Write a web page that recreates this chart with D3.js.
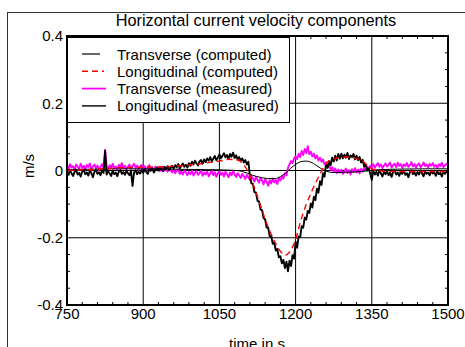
<!DOCTYPE html>
<html>
<head>
<meta charset="utf-8">
<script src="https://cdn.jsdelivr.net/npm/d3@7/dist/d3.min.js"></script>
<style>
  body { margin: 0; background: #fff; }
  text { font-family: Arial, "Liberation Sans", sans-serif; fill: #000; }
</style>
</head>
<body>
<div id="viz"></div>
<script>
// measured records, one sample every 3 s from 750 s to 1500 s (rows of 30 s)
const measStart = 750;
const measStep = 3;

const longMeasured = [
  -0.001, -0.013, 0.002, -0.009, -0.016, -0.004, 0.001, -0.012, -0.007, -0.018,  // 750
  -0.003, 0.002, -0.011, -0.006, -0.015, 0.000, -0.008, -0.020, -0.004, 0.001,   // 780
  -0.010, -0.005, -0.014, 0.001, -0.007, 0.058, -0.012, -0.002, -0.009, -0.016,  // 810
  0.000, -0.011, -0.006, -0.017, -0.003, 0.002, -0.010, -0.005, -0.013, -0.001,  // 840
  -0.008, -0.014, -0.002, -0.046, -0.006, 0.001, -0.011, -0.004, -0.009, 0.002,  // 870
  -0.007, 0.003, -0.004, -0.010, 0.004, -0.001, 0.006, -0.006, 0.002, 0.008,     // 900
  0.000, 0.009, 0.003, -0.002, 0.011, 0.005, 0.013, 0.002, 0.008, 0.014,         // 930
  0.006, 0.016, 0.010, 0.019, 0.007, 0.014, 0.021, 0.011, 0.017, 0.009,         // 960
  0.022, 0.014, 0.026, 0.018, 0.029, 0.021, 0.015, 0.027, 0.031, 0.020,         // 990
  0.033, 0.025, 0.036, 0.029, 0.040, 0.027, 0.035, 0.043, 0.031, 0.038,         // 1020
  0.048, 0.036, 0.044, 0.051, 0.039, 0.046, 0.034, 0.049, 0.041, 0.053,         // 1050
  0.037, 0.045, 0.033, 0.040, 0.029, 0.036, 0.024, 0.031, 0.018, 0.026,         // 1080
  -0.014, -0.038, -0.040, -0.064, -0.066, -0.090, -0.092, -0.116, -0.118, -0.142, // 1110
  -0.145, -0.170, -0.170, -0.196, -0.194, -0.218, -0.214, -0.238, -0.233, -0.258, // 1140
  -0.255, -0.276, -0.266, -0.290, -0.271, -0.300, -0.268, -0.284, -0.252, -0.262, // 1170
  -0.212, -0.230, -0.196, -0.198, -0.166, -0.170, -0.140, -0.146, -0.120, -0.126, // 1200
  -0.098, -0.110, -0.078, -0.088, -0.054, -0.066, -0.032, -0.043, -0.008, -0.018, // 1230
  0.020, 0.008, 0.028, 0.016, 0.038, 0.027, 0.044, 0.030, 0.049, 0.035,         // 1260
  0.050, 0.036, 0.047, 0.038, 0.052, 0.034, 0.045, 0.040, 0.049, 0.033,         // 1290
  0.044, 0.031, 0.040, 0.024, 0.032, 0.012, 0.018, 0.000, 0.006, -0.010,        // 1320
  -0.028, 0.000, -0.012, -0.004, -0.015, 0.001, -0.009, -0.018, -0.003, -0.011, // 1350
  -0.002, -0.014, -0.007, -0.019, -0.004, 0.000, -0.012, -0.006, -0.016, -0.003, // 1380
  -0.010, -0.001, -0.013, -0.008, -0.020, -0.005, 0.001, -0.011, -0.006, -0.015, // 1410
  -0.004, -0.012, 0.000, -0.009, -0.017, -0.003, -0.010, -0.006, -0.014, -0.001, // 1440
  -0.009, -0.005, -0.016, -0.002, -0.011, -0.007, -0.018, -0.004, -0.010, -0.003, // 1470
  -0.008                                                                          // 1500
];

const transMeasured = [
  0.016, 0.004, 0.019, 0.009, 0.013, 0.002, 0.018, 0.011, 0.006, 0.020,         // 750
  0.008, 0.014, 0.003, 0.017, 0.010, 0.021, 0.005, 0.012, 0.018, 0.007,         // 780
  0.015, 0.001, 0.011, 0.019, 0.008, 0.062, 0.013, 0.004, 0.016, 0.009,         // 810
  0.020, 0.006, 0.012, 0.003, 0.017, 0.010, 0.022, 0.007, 0.014, 0.004,         // 840
  0.011, 0.018, 0.005, 0.013, 0.020, 0.008, 0.015, 0.002, 0.012, 0.017,         // 870
  0.006, 0.013, 0.001, 0.010, 0.016, 0.004, 0.009, -0.001, 0.012, 0.005,        // 900
  0.008, -0.002, 0.006, 0.011, 0.000, 0.004, -0.004, 0.007, 0.001, -0.006,      // 930
  0.002, -0.008, -0.001, 0.004, -0.010, -0.003, -0.012, 0.001, -0.006, -0.014,  // 960
  -0.004, -0.011, 0.000, -0.015, -0.007, -0.002, -0.013, -0.008, 0.001, -0.016, // 990
  -0.006, -0.012, -0.003, -0.017, -0.009, 0.000, -0.014, -0.005, -0.019, -0.008, // 1020
  -0.002, -0.013, -0.007, -0.018, -0.004, -0.011, -0.020, -0.006, -0.014, -0.001, // 1050
  -0.012, -0.019, -0.008, -0.015, -0.022, -0.010, -0.017, -0.025, -0.013, -0.020, // 1080
  -0.028, -0.016, -0.024, -0.033, -0.019, -0.027, -0.036, -0.022, -0.030, -0.041, // 1110
  -0.026, -0.034, -0.045, -0.029, -0.038, -0.024, -0.035, -0.028, -0.040, -0.022, // 1140
  -0.030, -0.018, -0.024, -0.008, -0.014, 0.008, 0.018, 0.028, 0.022, 0.036,    // 1170
  0.042, 0.034, 0.050, 0.040, 0.058, 0.046, 0.064, 0.052, 0.072, 0.048,         // 1200
  0.056, 0.042, 0.050, 0.036, 0.045, 0.030, 0.038, 0.026, 0.033, 0.018,         // 1230
  0.024, 0.010, 0.016, 0.002, 0.010, -0.004, 0.006, -0.008, 0.003, -0.006,      // 1260
  0.002, -0.010, -0.003, 0.006, -0.008, 0.001, -0.012, 0.004, -0.005, 0.007,    // 1290
  -0.006, 0.003, -0.009, 0.005, -0.002, 0.008, 0.001, 0.011, 0.006, 0.014,      // 1320
  0.010, 0.019, 0.008, 0.016, 0.022, 0.011, 0.018, 0.007, 0.015, 0.021,         // 1350
  0.012, 0.017, 0.024, 0.009, 0.016, 0.020, 0.010, 0.023, 0.014, 0.019,         // 1380
  0.008, 0.018, 0.013, 0.022, 0.011, 0.016, 0.025, 0.012, 0.019, 0.009,         // 1410
  0.017, 0.021, 0.010, 0.015, 0.024, 0.013, 0.018, 0.009, 0.020, 0.014,         // 1440
  0.022, 0.011, 0.017, 0.008, 0.019, 0.013, 0.023, 0.010, 0.016, 0.020,         // 1470
  0.014                                                                          // 1500
];

// model output
const compTimes = [750, 800, 850, 900, 950, 1000, 1050, 1070, 1085, 1095, 1105, 1115, 1130,
  1145, 1160, 1170, 1180, 1190, 1200, 1210, 1220, 1230, 1240, 1250, 1260, 1275, 1300, 1330,
  1345, 1360, 1400, 1450, 1500];
const longComputed = [0.000, 0.003, 0.008, 0.010, 0.012, 0.018, 0.028, 0.033, 0.032, 0.022,
  0.000, -0.035, -0.100, -0.165, -0.215, -0.240, -0.252, -0.238, -0.205, -0.150, -0.105,
  -0.068, -0.035, -0.005, 0.020, 0.035, 0.040, 0.030, 0.010, 0.000, -0.003, -0.003, -0.003];
const transComputed = [0.003, 0.004, 0.005, 0.005, 0.004, 0.003, 0.002, 0.001, 0.000, -0.003,
  -0.008, -0.014, -0.020, -0.024, -0.024, -0.018, -0.008, 0.006, 0.018, 0.026, 0.028,
  0.025, 0.016, 0.006, -0.002, -0.006, -0.005, -0.003, 0.000, 0.002, 0.004, 0.005, 0.005];

const xTicks = [750, 900, 1050, 1200, 1350, 1500];
const yTicks = [-0.4, -0.2, 0, 0.2, 0.4];
const legendLabels = ['Transverse (computed)', 'Longitudinal (computed)',
  'Transverse (measured)', 'Longitudinal (measured)'];

const width = 465;
const height = 347;

const svg = d3.select('#viz')
  .append('svg')
  .attr('width', width)
  .attr('height', height);

const x = d3.scaleLinear().domain([750, 1500]).range([67, 448]);
const y = d3.scaleLinear().domain([-0.4, 0.4]).range([305, 36]);

// outer frame
svg.append('rect')
  .attr('x', 7.5).attr('y', 12.5)
  .attr('width', 480).attr('height', 360)
  .attr('fill', 'none')
  .attr('stroke', '#333');

svg.append('text')
  .attr('x', 256).attr('y', 26)
  .attr('text-anchor', 'middle')
  .style('font-size', '16.3px')
  .text('Horizontal current velocity components');

svg.append('defs').append('clipPath').attr('id', 'plot')
  .append('rect')
  .attr('x', x.range()[0]).attr('y', y.range()[1])
  .attr('width', x.range()[1] - x.range()[0])
  .attr('height', y.range()[0] - y.range()[1]);

// grid
svg.append('g')
  .selectAll('line')
  .data(xTicks.slice(1, -1))
  .join('line')
  .attr('x1', d => x(d)).attr('x2', d => x(d))
  .attr('y1', y.range()[0]).attr('y2', y.range()[1])
  .attr('stroke', '#000').attr('stroke-width', 1);
svg.append('g')
  .selectAll('line')
  .data(yTicks.slice(1, -1))
  .join('line')
  .attr('x1', x.range()[0]).attr('x2', x.range()[1])
  .attr('y1', d => y(d)).attr('y2', d => y(d))
  .attr('stroke', '#000').attr('stroke-width', 1);

// minor ticks, drawn inward on all four sides
const xMinor = d3.range(750, 1501, 30).filter(d => (d - 750) % 150 !== 0);
const yMinor = d3.range(-8, 9).map(d => d * 0.05).filter(d => Math.abs(Math.round(d * 100)) % 20 !== 0);
const ticks = svg.append('g').attr('stroke', '#000').attr('stroke-width', 1);
ticks.selectAll('line.xb').data(xMinor).join('line').attr('class', 'xb')
  .attr('x1', d => x(d)).attr('x2', d => x(d))
  .attr('y1', y.range()[0]).attr('y2', y.range()[0] - 3);
ticks.selectAll('line.xt').data(xMinor).join('line').attr('class', 'xt')
  .attr('x1', d => x(d)).attr('x2', d => x(d))
  .attr('y1', y.range()[1]).attr('y2', y.range()[1] + 3);
ticks.selectAll('line.yl').data(yMinor).join('line').attr('class', 'yl')
  .attr('x1', x.range()[0]).attr('x2', x.range()[0] + 3)
  .attr('y1', d => y(d)).attr('y2', d => y(d));
ticks.selectAll('line.yr').data(yMinor).join('line').attr('class', 'yr')
  .attr('x1', x.range()[1]).attr('x2', x.range()[1] - 3)
  .attr('y1', d => y(d)).attr('y2', d => y(d));

// series
const measTime = longMeasured.map((d, i) => measStart + i * measStep);
const line = d3.line().x(d => x(d[0])).y(d => y(d[1]));
const smooth = d3.line().x(d => x(d[0])).y(d => y(d[1])).curve(d3.curveMonotoneX);

const series = svg.append('g').attr('clip-path', 'url(#plot)').attr('fill', 'none');
series.append('path')
  .attr('d', line(measTime.map((t, i) => [t, transMeasured[i]])))
  .attr('stroke', '#ff00ff').attr('stroke-width', 1.9)
  .attr('stroke-linejoin', 'round');
series.append('path')
  .attr('d', line(measTime.map((t, i) => [t, longMeasured[i]])))
  .attr('stroke', '#000').attr('stroke-width', 1.9)
  .attr('stroke-linejoin', 'round');
series.append('path')
  .attr('d', smooth(compTimes.map((t, i) => [t, transComputed[i]])))
  .attr('stroke', '#000').attr('stroke-width', 1);
series.append('path')
  .attr('d', smooth(compTimes.map((t, i) => [t, longComputed[i]])))
  .attr('stroke', '#ff0000').attr('stroke-width', 1.4)
  .attr('stroke-dasharray', '6,4');

// legend
const legend = svg.append('g');
legend.append('rect')
  .attr('x', 67.5).attr('y', 37.5)
  .attr('width', 222).attr('height', 85)
  .attr('fill', '#fff').attr('stroke', '#000');
const legendStyle = [
  { color: '#000', dash: null, x2: 100, w: 1.2 },
  { color: '#ff0000', dash: '6,4', x2: 104, w: 1.4 },
  { color: '#ff00ff', dash: null, x2: 106, w: 1.8 },
  { color: '#000', dash: null, x2: 106, w: 1.4 },
];
legendLabels.forEach((label, i) => {
  const ly = 54 + i * 17.3;
  legend.append('line')
    .attr('x1', 82).attr('x2', legendStyle[i].x2)
    .attr('y1', ly).attr('y2', ly)
    .attr('stroke', legendStyle[i].color)
    .attr('stroke-width', legendStyle[i].w)
    .attr('stroke-dasharray', legendStyle[i].dash);
  legend.append('text')
    .attr('x', 117).attr('y', ly + 5.5)
    .style('font-size', '15px')
    .text(label);
});

// plot frame
svg.append('rect')
  .attr('x', x.range()[0]).attr('y', y.range()[1])
  .attr('width', x.range()[1] - x.range()[0])
  .attr('height', y.range()[0] - y.range()[1])
  .attr('fill', 'none').attr('stroke', '#000').attr('stroke-width', 2);

// tick labels
svg.append('g')
  .selectAll('text')
  .data(xTicks)
  .join('text')
  .attr('x', d => x(d)).attr('y', 318.5)
  .attr('text-anchor', 'middle')
  .style('font-size', '15px')
  .text(d => d);
svg.append('g')
  .selectAll('text')
  .data(yTicks)
  .join('text')
  .attr('x', 63).attr('y', d => y(d))
  .attr('dy', '0.35em')
  .attr('text-anchor', 'end')
  .style('font-size', '15px')
  .text(d => d === 0 ? '0' : d3.format('.1f')(d).replace('−', '-'));

svg.append('text')
  .attr('transform', 'translate(34,166) rotate(-90)')
  .attr('text-anchor', 'middle')
  .style('font-size', '15px')
  .text('m/s');
svg.append('text')
  .attr('x', 257).attr('y', 349)
  .attr('text-anchor', 'middle')
  .style('font-size', '15px')
  .text('time in s');
</script>
</body>
</html>
